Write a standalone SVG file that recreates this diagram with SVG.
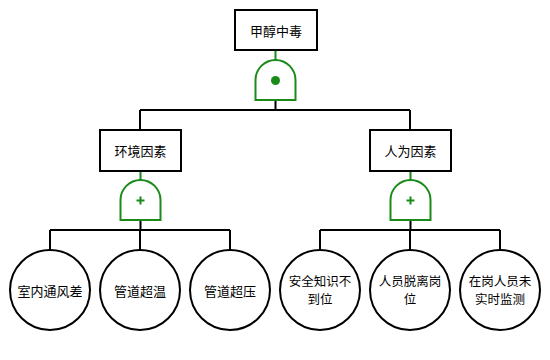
<svg xmlns="http://www.w3.org/2000/svg" width="550" height="360" viewBox="0 0 550 360">
<style>
.box{fill:#fff;stroke:#000;stroke-width:2}
.leaf{fill:#fff;stroke:#000;stroke-width:2}
.gate{fill:#fff;stroke:#1a8a1a;stroke-width:2}
.gl{stroke:#1a8a1a;stroke-width:2;fill:none}
.ln{stroke:#000;stroke-width:2;fill:none}
text{font-family:"Noto Sans CJK SC","Noto Sans",sans-serif;font-size:13px;fill:#000;text-anchor:middle;dominant-baseline:central}
.two{font-size:12.5px}
</style>
<g id="connectors">
<path class="gl" d="M275.5,50V60"/>
<path class="ln" d="M275.5,100V110M140,110H410M140,110V130M410,110V130"/>
<path class="gl" d="M140.5,171V180M410.5,171V180"/>
<path class="ln" d="M140.5,220V230M50,230H230M50,230V250M140,230V250M230,230V250"/>
<path class="ln" d="M410.5,220V230M320,230H500M320,230V250M410,230V250M500,230V250"/>
</g>
<g id="top">
<rect class="box" x="235" y="10" width="82" height="40"/>
<text x="276" y="30">甲醇中毒</text>
</g>
<g id="gate-and">
<path class="gate" d="M255.5,100V80A20,20 0 0 1 295.5,80V100Z"/>
<circle cx="275.5" cy="80.5" r="4.5" fill="#1a8a1a"/>
</g>
<g id="env">
<rect class="box" x="100" y="130" width="81" height="41"/>
<text x="140.5" y="150.5">环境因素</text>
</g>
<g id="human">
<rect class="box" x="370" y="130" width="81" height="41"/>
<text x="410.5" y="150.5">人为因素</text>
</g>
<g id="gate-or-1">
<path class="gate" d="M120.5,220V200A20,20 0 0 1 160.5,200V220Z"/>
<path class="gl" d="M136.5,200.5H144.5M140.5,196.5V204.5"/>
</g>
<g id="gate-or-2">
<path class="gate" d="M390.5,220V200A20,20 0 0 1 430.5,200V220Z"/>
<path class="gl" d="M406.5,200.5H414.5M410.5,196.5V204.5"/>
</g>
<g id="e1"><circle class="leaf" cx="50" cy="290" r="40"/><text x="50" y="290">室内通风差</text></g>
<g id="e2"><circle class="leaf" cx="140" cy="290" r="40"/><text x="140" y="290">管道超温</text></g>
<g id="e3"><circle class="leaf" cx="230" cy="290" r="40"/><text x="230" y="290">管道超压</text></g>
<g id="e4"><circle class="leaf" cx="320" cy="290" r="40"/><text class="two" x="320" y="280">安全知识不<tspan x="320" dy="18.2">到位</tspan></text></g>
<g id="e5"><circle class="leaf" cx="410" cy="290" r="40"/><text class="two" x="410" y="280">人员脱离岗<tspan x="410" dy="18.2">位</tspan></text></g>
<g id="e6"><circle class="leaf" cx="500" cy="290" r="40"/><text class="two" x="500" y="280">在岗人员未<tspan x="500" dy="18.2">实时监测</tspan></text></g>
</svg>
